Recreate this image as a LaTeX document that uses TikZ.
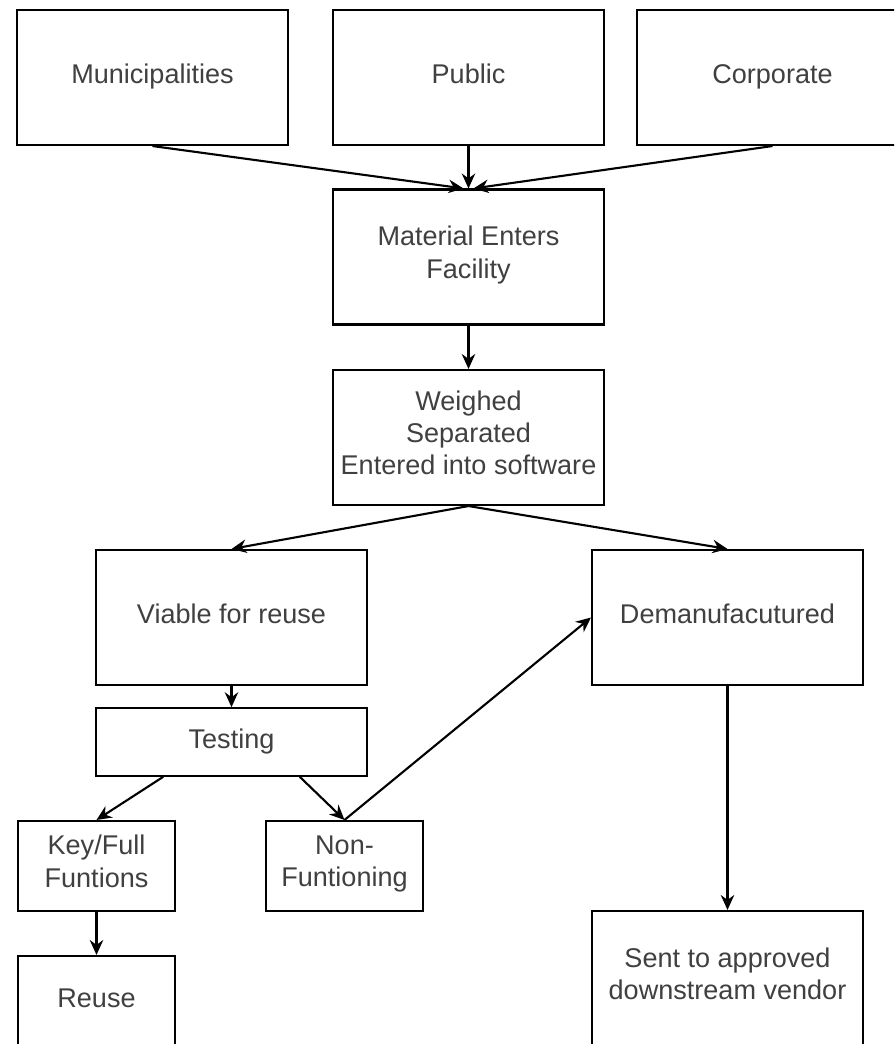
\documentclass[tikz,border=0pt]{standalone}
\usepackage{fontspec}
\setmainfont{Liberation Sans}
\usetikzlibrary{positioning}
\usetikzlibrary{arrows.meta, calc}

\begin{document}
\begin{tikzpicture}[x=0.02cm, y=-0.02cm,
  box/.style={draw, line width=1.2pt, text=black!75, align=center, inner sep=2pt,
    font=\fontsize{15.4}{18.4}\selectfont,
    execute at begin node=\strut, execute at end node=\strut},
  bigbox/.style={box, minimum width=5.42cm, minimum height=2.7cm},
  smallbox/.style={box, minimum width=3.15cm, minimum height=1.8cm},
  flow/.style={line width=1.2pt, -{Stealth[length=0.3cm, width=0.27cm, inset=0.1cm]}}]

  \useasboundingbox (0,0) rectangle (894,1044);
  \fill[white] (0,0) rectangle (894,1044);
  \clip (0,0) rectangle (894,1044);

  % sources
  \node[bigbox] (muni) at (152.5,77.5) {Municipalities};
  \node[bigbox] (public) at (468.5,77.5) {Public};
  \node[bigbox] (corp) at (772.5,77.5) {Corporate};

  % intake
  \node[bigbox] (enter) at (468.5,257) {Material Enters\\Facility};
  \node[bigbox] (weigh) at (468.5,437.5) {Weighed\\Separated\\Entered into software};

  % sorting
  \node[bigbox] (viable) at (231.5,617.5) {Viable for reuse};
  \node[bigbox] (demanuf) at (727.5,617.5) {Demanufacutured};
  \node[box, minimum width=5.42cm, minimum height=1.35cm] (testing) at (231.5,742) {Testing};
  \node[smallbox] (keyfull) at (96.5,866) {Key/Full\\Funtions};
  \node[smallbox] (nonfunc) at (344.5,866) {Non-\\Funtioning};
  \node[smallbox] (reuse) at (96.5,1001) {Reuse};
  \node[bigbox] (vendor) at (727.5,978.5) {Sent to approved\\downstream vendor};

  \draw[flow] (muni.south) -- ([xshift=-1mm]enter.north);
  \draw[flow] (public.south) -- (enter.north);
  \draw[flow] (corp.south) -- ([xshift=1mm]enter.north);
  \draw[flow] (enter.south) -- (weigh.north);
  \draw[flow] (weigh.south) -- (viable.north);
  \draw[flow] (weigh.south) -- (demanuf.north);
  \draw[flow] (viable.south) -- (testing.north);
  \draw[flow] ($(testing.south west)!0.25!(testing.south east)$) -- (keyfull.north);
  \draw[flow] ($(testing.south west)!0.75!(testing.south east)$) -- (nonfunc.north);
  \draw[flow] (nonfunc.north) -- (demanuf.west);
  \draw[flow] (keyfull.south) -- (reuse.north);
  \draw[flow] (demanuf.south) -- (vendor.north);

\end{tikzpicture}
\end{document}
